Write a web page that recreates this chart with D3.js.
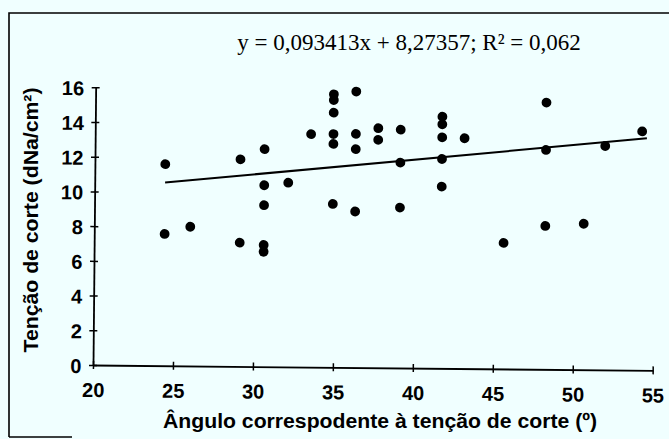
<!DOCTYPE html>
<html>
<head>
<meta charset="utf-8">
<script src="https://cdn.jsdelivr.net/npm/d3@7"></script>
<style>
  body { margin: 0; background: #f0ffff; }
  svg { display: block; }
  .tick text { font-family: "Liberation Sans", Arial, sans-serif; font-weight: bold; font-size: 20px; fill: #000; }
  .lbl { font-family: "Liberation Sans", Arial, sans-serif; font-weight: bold; font-size: 20px; fill: #000; }
</style>
</head>
<body>
<div id="chart"></div>
<script>
// angle (degrees) vs shear stress (dNa/cm2)
var angulo = [24.4, 24.4, 26.0, 29.1, 29.1, 30.6, 30.6, 30.6, 30.6, 30.6,
  32.1, 33.5, 34.9, 34.9, 34.9, 34.9, 34.9, 34.9, 36.3, 36.3,
  36.3, 36.3, 37.7, 37.7, 39.1, 39.1, 39.1, 41.7, 41.7, 41.7,
  41.7, 41.7, 43.1, 45.6, 48.2, 48.2, 48.2, 50.6, 51.9, 54.2];
var tencao = [11.61, 7.59, 8.02, 11.93, 7.13, 12.53, 10.45, 9.3, 7.01, 6.62,
  10.61, 13.42, 15.73, 15.4, 14.67, 13.44, 12.87, 9.41, 15.9, 13.46,
  12.58, 8.99, 13.8, 13.13, 13.73, 11.83, 9.24, 14.5, 14.06, 13.31,
  12.06, 10.47, 13.27, 7.26, 15.37, 12.64, 8.26, 8.41, 12.9, 13.76];

// linear fit printed on the chart
var slope = 0.093413;
var intercept = 8.27357;
var fitRange = [24.4, 54.5];

var xTicks = [20, 25, 30, 35, 40, 45, 50, 55];
var yTicks = [0, 2, 4, 6, 8, 10, 12, 14, 16];

var svgWidth = 669;
var svgHeight = 439;

var svg = d3.select("#chart")
  .append("svg")
  .attr("width", svgWidth)
  .attr("height", svgHeight);

// frame of the scanned figure
svg.append("path")
  .attr("d", "M9,437 L9,13 L669,13")
  .attr("fill", "none")
  .attr("stroke", "#000")
  .attr("stroke-width", 1.6);
svg.append("line")
  .attr("x1", 9).attr("x2", 72)
  .attr("y1", 437).attr("y2", 437)
  .attr("stroke", "#000")
  .attr("stroke-width", 1.4);

// the scan is turned a little clockwise
var chartGroup = svg.append("g")
  .attr("transform", "rotate(0.55, 93, 365)");

var xScale = d3.scaleLinear().domain([20, 55]).range([93, 652.7]);
var yScale = d3.scaleLinear().domain([0, 16]).range([365, 87.3]);

// x axis
var xAxis = chartGroup.append("g")
  .attr("transform", "translate(0, 365)")
  .call(d3.axisBottom(xScale).tickValues(xTicks).tickSize(4).tickSizeOuter(0).tickFormat(d3.format("d")));
xAxis.select(".domain").attr("stroke-width", 1.8);
xAxis.selectAll(".tick line").attr("y1", -4).attr("y2", 4).attr("stroke-width", 1.5);
xAxis.selectAll(".tick text").attr("y", 32).attr("dy", 0);

// y axis
var yAxis = chartGroup.append("g")
  .attr("transform", "translate(93, 0)")
  .call(d3.axisLeft(yScale).tickValues(yTicks).tickSize(4).tickSizeOuter(0).tickFormat(d3.format("d")));
yAxis.select(".domain").attr("stroke-width", 1.8);
yAxis.selectAll(".tick line").attr("x1", 4).attr("x2", -4).attr("stroke-width", 1.5);
yAxis.selectAll(".tick text").attr("x", -11.5).attr("dy", "0.38em");

// trend line
chartGroup.append("line")
  .attr("x1", xScale(fitRange[0]))
  .attr("y1", yScale(slope * fitRange[0] + intercept))
  .attr("x2", xScale(fitRange[1]))
  .attr("y2", yScale(slope * fitRange[1] + intercept))
  .attr("stroke", "#000")
  .attr("stroke-width", 2);

// points
chartGroup.selectAll("circle")
  .data(angulo)
  .enter()
  .append("circle")
  .attr("cx", function(d) { return xScale(d); })
  .attr("cy", function(d, i) { return yScale(tencao[i]); })
  .attr("r", 4.9)
  .attr("fill", "#000");

// equation
svg.append("text")
  .attr("x", 409)
  .attr("y", 50)
  .attr("text-anchor", "middle")
  .style("font-family", "'Liberation Serif', 'Times New Roman', serif")
  .style("font-size", "23px")
  .style("fill", "#000")
  .text("y = 0,093413x + 8,27357; R² = 0,062");

// axis titles
svg.append("text")
  .attr("class", "lbl")
  .attr("x", 163)
  .attr("y", 428)
  .attr("textLength", 434)
  .attr("lengthAdjust", "spacingAndGlyphs")
  .text("Ângulo correspodente à tenção de corte (º)");

svg.append("text")
  .attr("class", "lbl")
  .attr("transform", "translate(37.5, 220) rotate(-90)")
  .attr("text-anchor", "middle")
  .attr("textLength", 265)
  .attr("lengthAdjust", "spacingAndGlyphs")
  .text("Tenção de corte (dNa/cm²)");
</script>
</body>
</html>
